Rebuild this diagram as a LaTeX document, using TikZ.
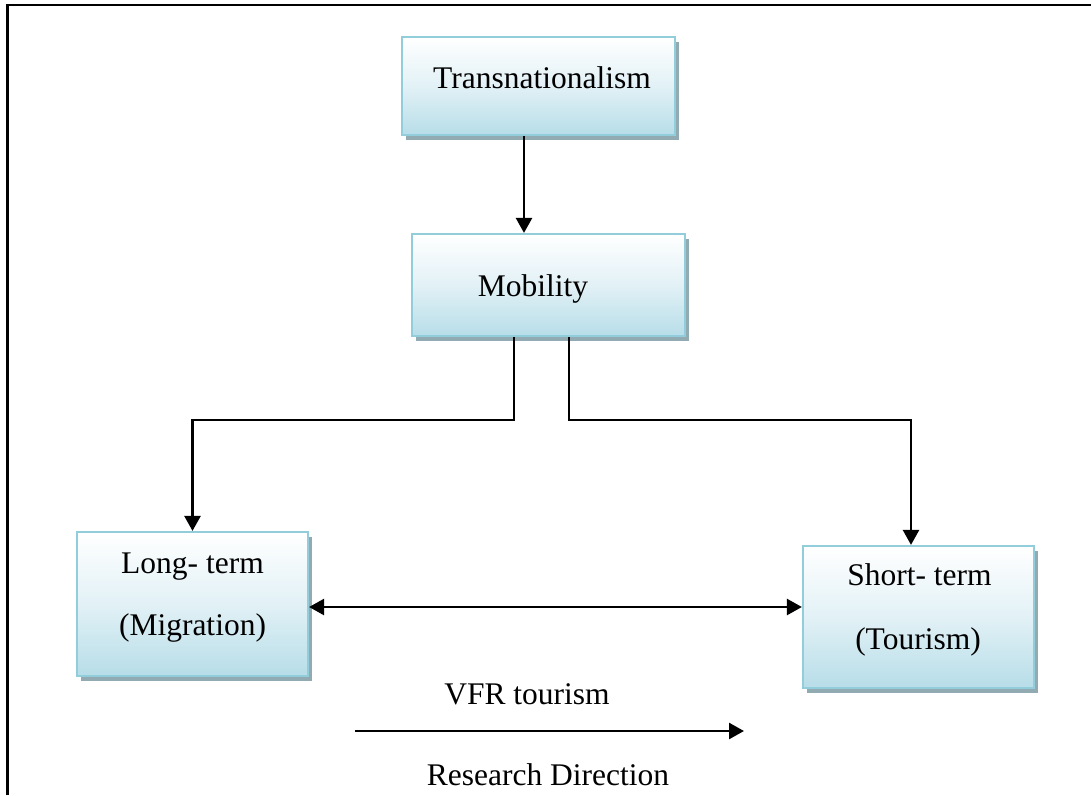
\documentclass[tikz,border=0pt]{standalone}
\usepackage{fontspec}
\setmainfont{Liberation Serif}
\usetikzlibrary{arrows.meta,shadows}
\definecolor{boxedge}{RGB}{146,205,220}
\definecolor{boxfill}{RGB}{183,221,232}
\definecolor{boxmid}{RGB}{226,241,246}
\definecolor{boxshade}{RGB}{146,170,178}
\begin{document}
\begin{tikzpicture}[x=1pt,y=-1pt,
  every node/.style={font=\fontsize{31.5}{63}\selectfont},
  box/.style={rectangle, draw=boxedge, line width=2.2pt, inner sep=0pt,
    top color=white, bottom color=boxfill, middle color=boxmid,
    drop shadow={shadow xshift=4pt, shadow yshift=-5pt, fill=boxshade, opacity=1, draw=none}},
  label/.style={anchor=base, inner sep=0pt},
  tip/.style={},
  conn/.style={draw=black, line width=2.5pt, -{Triangle[width=16pt,length=15pt]}},
  biconn/.style={draw=black, line width=2.5pt, {Triangle[width=16pt,length=15pt]}-{Triangle[width=16pt,length=15pt]}}]
\useasboundingbox (0,0) rectangle (1091,795);

% outer frame (left and top edges)
\draw[line width=2.5pt] (7.5,795) -- (7.5,5) -- (1091,5);

% boxes
\node[box, minimum width=273pt, minimum height=98pt]  (trans) at (538.5,86) {};
\node[box, minimum width=273pt, minimum height=102pt] (mob)   at (548.5,285) {};
\node[box, minimum width=231pt, minimum height=144pt] (long)  at (192.5,604) {};
\node[box, minimum width=231pt, minimum height=142pt] (short) at (918.5,617) {};

% box texts
\node[label] (transT) at (542,88) {Transnationalism};
\node[label] (mobT)   at (533,296) {Mobility};
\node[label] (longA)  at (192.5,573) {Long- term};
\node[label] (longB)  at (192.5,635) {(Migration)};
\node[label] (shortA) at (919.5,585) {Short- term};
\node[label] (shortB) at (918,649) {(Tourism)};

% connectors
\draw[conn] ([xshift=-14.5pt]trans.south) -- ([xshift=-24.5pt]mob.north);
\draw[conn] ([xshift=-34.5pt]mob.south) -- ++(0,83) -| (long.north);
\draw[conn] ([xshift=20.5pt]mob.south) -- ++(0,83) -| ([xshift=-7.5pt]short.north);
\draw[biconn] ([yshift=-3pt]long.east) -- ([yshift=-3pt]long.east -| short.west);

% research direction
\node[label] (vfr) at (527,704) {VFR tourism};
\coordinate (rdA) at (355,731);
\coordinate (rdB) at (744,731);
\draw[conn] (rdA) -- (rdB);
\node[label] (rd) at (548,785) {Research Direction};
\end{tikzpicture}
\end{document}
